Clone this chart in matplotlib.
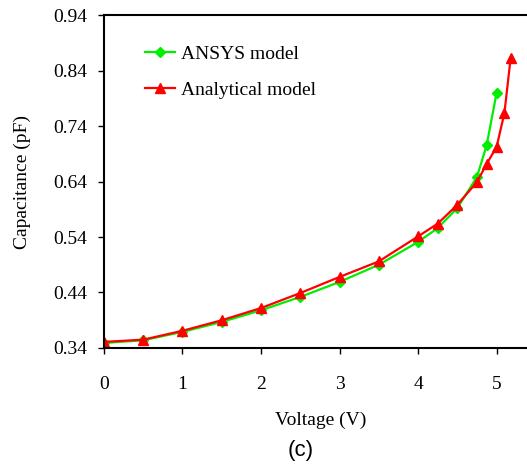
import matplotlib; matplotlib.use("Agg")
import matplotlib.pyplot as plt

volt_ansys = [0, 0.5, 1, 1.5, 2, 2.5, 3, 3.5, 4, 4.25, 4.5, 4.75, 4.875, 5.0]
cap_ansys = [0.349, 0.354, 0.369, 0.387, 0.408, 0.432, 0.459, 0.490, 0.531, 0.556, 0.592,
             0.648, 0.706, 0.799]
volt_anal = [0, 0.5, 1, 1.5, 2, 2.5, 3, 3.5, 4, 4.25, 4.5, 4.75, 4.875, 5.0, 5.1, 5.18]
cap_anal = [0.351, 0.355, 0.371, 0.390, 0.412, 0.439, 0.468, 0.496, 0.541, 0.564, 0.598,
            0.639, 0.672, 0.702, 0.763, 0.863]

plt.rcParams.update({"font.family": "Liberation Serif", "font.size": 14})
fig = plt.figure(figsize=(5.27, 4.69), dpi=100)
ax = fig.add_axes([0.1973, 0.258, 0.803, 0.71])

ax.plot(volt_ansys, cap_ansys, "-D", color="#00ee00", ms=5, lw=1.6, label="ANSYS model")
ax.plot(volt_anal, cap_anal, "-^", color="#ff0000", ms=7, lw=1.6, label="Analytical model")

ax.set_xlim(0, 5.39)
ax.set_ylim(0.34, 0.94)
ax.set_xticks([0, 1, 2, 3, 4, 5])
ax.set_yticks([0.34, 0.44, 0.54, 0.64, 0.74, 0.84, 0.94])
ax.set_yticklabels(["0.34", "0.44", "0.54", "0.64", "0.74", "0.84", "0.94"])
ax.tick_params(direction="out", length=4, width=1, labelsize=14)
ax.tick_params(axis="x", pad=16)
ax.tick_params(axis="y", pad=8)
for s in ("left", "bottom", "top"):
    ax.spines[s].set_linewidth(1.5)
ax.spines["right"].set_visible(False)

ax.set_xlabel("Voltage (V)", fontsize=14)
ax.set_ylabel("Capacitance (pF)", fontsize=14)
ax.xaxis.set_label_coords(0.511, -0.19)
ax.yaxis.set_label_coords(-0.172, 0.5)
ax.legend(loc="upper left", bbox_to_anchor=(0.097, 0.91), frameon=False, fontsize=14,
          borderaxespad=0, borderpad=0, handlelength=1.55, handletextpad=0.3,
          labelspacing=0.95)

fig.text(0.57, 0.027, "(c)", ha="center", fontsize=16, family="Liberation Sans")
fig.savefig("out.png", dpi=100)
